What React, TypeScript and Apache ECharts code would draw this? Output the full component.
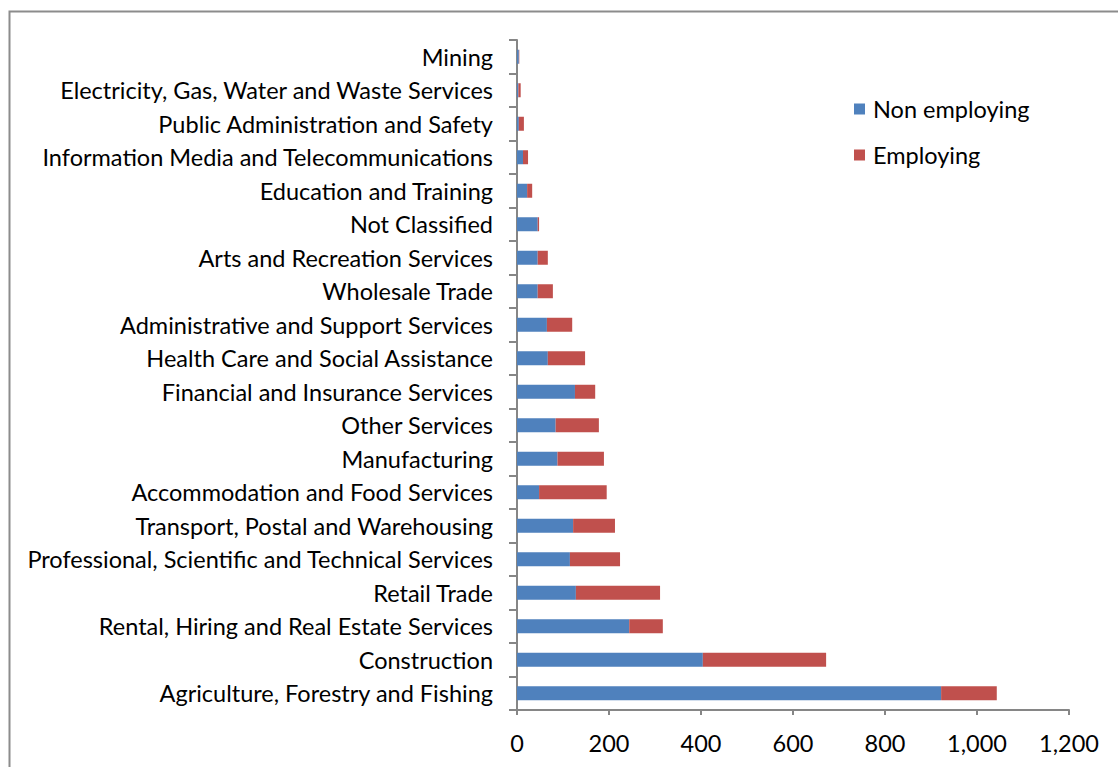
import React, { useEffect, useRef } from "react";
import * as echarts from "echarts";

const categories = [
  "Agriculture, Forestry and Fishing",
  "Construction",
  "Rental, Hiring and Real Estate Services",
  "Retail Trade",
  "Professional, Scientific and Technical Services",
  "Transport, Postal and Warehousing",
  "Accommodation and Food Services",
  "Manufacturing",
  "Other Services",
  "Financial and Insurance Services",
  "Health Care and Social Assistance",
  "Administrative and Support Services",
  "Wholesale Trade",
  "Arts and Recreation Services",
  "Not Classified",
  "Education and Training",
  "Information Media and Telecommunications",
  "Public Administration and Safety",
  "Electricity, Gas, Water and Waste Services",
  "Mining",
];

const nonEmploying = [922, 404, 244, 128, 115, 122, 48, 88, 84, 126, 67, 65, 45, 45, 45, 22, 13, 4, 3, 4];
const employing = [121, 268, 73, 183, 109, 91, 147, 101, 94, 44, 81, 55, 33, 22, 3, 11, 11, 11, 5, 1];

const xTicks = [0, 200, 400, 600, 800, 1000, 1200];

const FONT = "Lato, 'Open Sans', sans-serif";
const FS = 23.5;

export default function App() {
  const ref = useRef<HTMLDivElement>(null);
  useEffect(() => {
    if (!ref.current) return;
    const chart = echarts.init(ref.current, null, { renderer: "svg" });
    chart.setOption({
      animation: false,
      backgroundColor: "#ffffff",
      textStyle: { fontFamily: FONT },
      graphic: [
        {
          type: "rect",
          shape: { x: 9.5, y: 11.5, width: 1200, height: 900 },
          style: { fill: "none", stroke: "#8c8c8c", lineWidth: 2 },
          silent: true,
          z: -10,
        },
      ],
      legend: {
        orient: "vertical",
        left: 854,
        top: 97,
        padding: 0,
        itemWidth: 11,
        itemHeight: 11,
        itemGap: 22,
        icon: "rect",
        textStyle: {
          fontSize: FS,
          lineHeight: 24,
          color: "#000",
          fontFamily: FONT,
          padding: [0, 0, 0, 3],
        },
        data: ["Non employing", "Employing"],
      },
      grid: { left: 517, right: 49, top: 40, bottom: 57, containLabel: false },
      xAxis: {
        type: "value",
        min: xTicks[0],
        max: xTicks[xTicks.length - 1],
        interval: 200,
        axisLine: { show: true, lineStyle: { color: "#868686", width: 2 } },
        axisTick: { show: true, length: 5, lineStyle: { color: "#868686", width: 2 } },
        splitLine: { show: false },
        axisLabel: {
          fontSize: FS,
          color: "#000",
          margin: 21,
          fontFamily: FONT,
          formatter: (v: number) => v.toLocaleString("en-US"),
        },
      },
      yAxis: {
        type: "category",
        data: categories,
        axisLine: { show: true, lineStyle: { color: "#868686", width: 2 } },
        axisTick: { show: true, length: 8, lineStyle: { color: "#868686", width: 2 } },
        axisLabel: {
          fontSize: FS,
          color: "#000",
          margin: 24,
          fontFamily: FONT,
          padding: [0, 0, 6, 0],
        },
      },
      series: [
        {
          name: "Non employing",
          type: "bar",
          stack: "total",
          data: nonEmploying,
          barWidth: 14,
          itemStyle: { color: "#4f81bd" },
        },
        {
          name: "Employing",
          type: "bar",
          stack: "total",
          data: employing,
          barWidth: 14,
          itemStyle: { color: "#c0504d" },
        },
      ],
    });
    return () => chart.dispose();
  }, []);
  return (
    <div
      ref={ref}
      style={{ position: "fixed", left: 0, top: 0, width: 1118, height: 767 }}
    />
  );
}
